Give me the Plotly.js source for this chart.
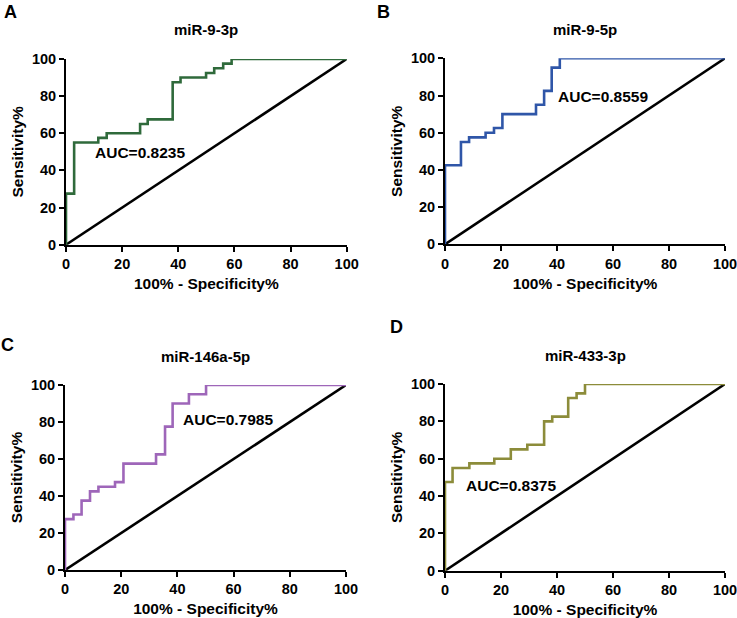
<!DOCTYPE html>
<html>
<head>
<meta charset="utf-8">
<script src="https://cdn.plot.ly/plotly-3.0.1.min.js"></script>
<style>html,body{margin:0;padding:0;background:#fff;}#chart{width:737px;height:618px;}</style>
</head>
<body>
<div id="chart"></div>
<script>
// Panel titles and AUC labels
const panelTitles = ["miR-9-3p", "miR-9-5p", "miR-146a-5p", "miR-433-3p"];
const panelLetters = ["A", "B", "C", "D"];
const aucLabels = ["AUC=0.8235", "AUC=0.8559", "AUC=0.7985", "AUC=0.8375"];

// ROC points (100% - Specificity%, Sensitivity%)
const fprA = [0, 0, 2.9, 11.5, 14.5, 26.4, 29.1, 38, 40.8, 49.9, 52.8, 56, 59, 100];
const tprA = [0, 27.5, 55, 57.5, 60, 65, 67.5, 87.5, 90, 92.5, 95, 97.5, 100, 100];

const fprB = [0, 0, 5.7, 8.6, 14.5, 17.5, 20.5, 32.5, 35.4, 38.1, 41, 100];
const tprB = [0, 42.5, 55, 57.5, 60, 62.5, 70, 75, 82.5, 95, 100, 100];

const fprC = [0, 0, 3, 5.9, 8.9, 11.9, 17.8, 20.8, 32.4, 35.6, 38.3, 44.1, 50.2, 100];
const tprC = [0, 27.5, 30, 37.5, 42.5, 45, 47.5, 57.5, 62.5, 77.5, 90, 95, 100, 100];

const fprD = [0, 0, 2.7, 8.7, 17.6, 23.5, 29.4, 35.4, 38.3, 44, 47, 50, 100];
const tprD = [0, 47.5, 55, 57.5, 60, 65, 67.5, 80, 82.5, 92.5, 95, 100, 100];

// Reference line
const refX = [0, 100];
const refY = [0, 100];

const tickVals = [0, 20, 40, 60, 80, 100];
const xTitle = "100% - Specificity%";
const yTitle = "Sensitivity%";

const colors = ["#2f6a3b", "#2f56a8", "#9e66b9", "#8c8c3a"];
const curves = [[fprA, tprA], [fprB, tprB], [fprC, tprC], [fprD, tprD]];

const W = 737, H = 618;
// plot areas in pixels [left, right, top, bottom]
const boxes = [[66, 346.7, 59, 244.7], [445, 725, 58.3, 244.3], [65, 346, 385, 570], [445, 725, 384, 570.7]];
const aucPos = [[26.4, 49.5], [56.5, 79.4], [58.1, 81.6], [23.5, 45.5]];
const letterPos = [[10, 12], [384, 12], [8, 345], [396, 327]];

const font = {family: "Liberation Sans, Arial, sans-serif", color: "#000"};
const traces = [];
const layout = {
  width: W, height: H, margin: {l: 0, r: 0, t: 0, b: 0},
  paper_bgcolor: "#fff", plot_bgcolor: "#fff", showlegend: false,
  font: font, annotations: []
};

for (let i = 0; i < 4; i++) {
  const s = i === 0 ? "" : String(i + 1);
  const b = boxes[i];
  traces.push({x: refX, y: refY, xaxis: "x" + s, yaxis: "y" + s, mode: "lines",
    line: {color: "#000", width: 2.6}, hoverinfo: "skip"});
  traces.push({x: curves[i][0], y: curves[i][1], xaxis: "x" + s, yaxis: "y" + s, mode: "lines",
    line: {color: colors[i], width: 2.6, shape: "hv"}, hoverinfo: "skip"});
  const axCommon = {range: [0, 100], tickvals: tickVals, showgrid: false, zeroline: false,
    showline: true, linecolor: "#000", linewidth: 2, ticks: "outside", ticklen: 5, tickwidth: 2,
    tickcolor: "#000", tickfont: {family: font.family, size: 14.5, weight: "bold", color: "#000"},
    ticklabeloverflow: "allow", fixedrange: true};
  layout["xaxis" + s] = Object.assign({}, axCommon, {
    domain: [b[0] / W, b[1] / W], anchor: "y" + s,
    title: {text: xTitle, font: {family: font.family, size: 15.5, weight: "bold", color: "#000"}, standoff: 7}
  });
  layout["yaxis" + s] = Object.assign({}, axCommon, {
    domain: [1 - b[3] / H, 1 - b[2] / H], anchor: "x" + s,
    title: {text: yTitle, font: {family: font.family, size: 15.5, weight: "bold", color: "#000"}, standoff: 4}
  });
  layout.annotations.push({text: panelTitles[i], xref: "paper", yref: "paper",
    x: ((b[0] + b[1]) / 2) / W, y: 1 - (b[2] - 29) / H, xanchor: "center", yanchor: "middle",
    showarrow: false, font: {family: font.family, size: 15, weight: "bold", color: "#000"}});
  layout.annotations.push({text: aucLabels[i], xref: "x" + s, yref: "y" + s,
    x: aucPos[i][0], y: aucPos[i][1], xanchor: "center", yanchor: "middle",
    showarrow: false, font: {family: font.family, size: 15.5, weight: "bold", color: "#000"}});
  layout.annotations.push({text: panelLetters[i], xref: "paper", yref: "paper",
    x: letterPos[i][0] / W, y: 1 - letterPos[i][1] / H, xanchor: "center", yanchor: "middle",
    showarrow: false, font: {family: font.family, size: 18, weight: "bold", color: "#000"}});
}

Plotly.newPlot("chart", traces, layout, {staticPlot: true, displayModeBar: false});
</script>
</body>
</html>
